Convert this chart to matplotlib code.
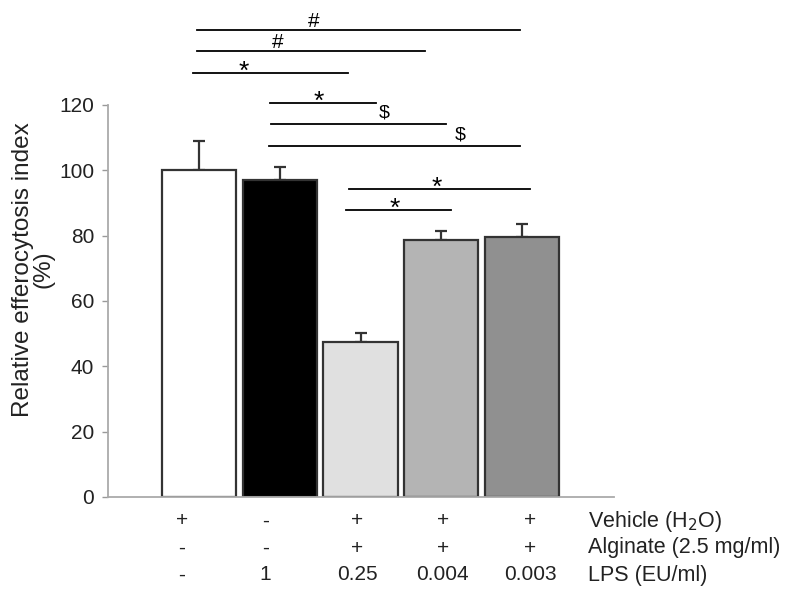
import matplotlib
matplotlib.use("Agg")
import matplotlib.pyplot as plt
import matplotlib.transforms as mtransforms

plt.rcParams['font.family'] = ['Liberation Sans', 'DejaVu Sans']

groups = ["Control", "LPS 1", "Alginate LPS 0.25", "Alginate LPS 0.004", "Alginate LPS 0.003"]
values = [100.0, 97.0, 47.4, 78.6, 79.6]
errors = [9.1, 4.1, 2.9, 2.7, 4.0]
colors = ["#ffffff", "#000000", "#e0e0e0", "#b4b4b4", "#909090"]

vehicle_row = ["+", "-", "+", "+", "+"]
alginate_row = ["-", "-", "+", "+", "+"]
lps_row = ["-", "1", "0.25", "0.004", "0.003"]
row_names = ["Vehicle (H$_2$O)", "Alginate (2.5 mg/ml)", "LPS (EU/ml)"]

# significance brackets: (x_start, x_end, y, label, label_x)
sig_lines = [
    (-0.03, 3.98, 143.0, "#", 1.42),
    (-0.03, 2.80, 136.5, "#", 0.97),
    (-0.07, 1.85, 129.9, "*", 0.56),
    (0.88, 2.19, 120.6, "*", 1.48),
    (0.89, 3.06, 114.1, "$", 2.29),
    (0.87, 3.98, 107.5, "$", 3.23),
    (1.86, 4.10, 94.4, "*", 2.94),
    (1.82, 3.12, 87.8, "*", 2.43),
]

fig = plt.figure(figsize=(8.0, 6.03), dpi=100)
ax = fig.add_axes([108/800, 1-497/603, (614-108)/800, 392/603])

x = list(range(len(values)))
ax.bar(x, values, width=0.92, color=colors, edgecolor="#333333", linewidth=1.6, zorder=2)
ax.errorbar(x, values, yerr=[[0]*len(errors), errors], fmt="none",
            ecolor="#333333", elinewidth=1.6, capsize=4, capthick=1.6, zorder=1)

ax.set_xlim(-1.127, 5.139)
ax.set_ylim(0, 120)
ax.set_yticks([0, 20, 40, 60, 80, 100, 120])
ax.tick_params(axis='y', direction='out', length=4, width=1, color="#999999",
               labelsize=15, pad=6, labelcolor="#222222")
ax.set_xticks([])
for s in ["top", "right"]:
    ax.spines[s].set_visible(False)
ax.spines["left"].set_color("#aaaaaa")
ax.spines["bottom"].set_color("#aaaaaa")
ax.spines["left"].set_linewidth(1.3)
ax.spines["bottom"].set_linewidth(1.3)

ax.set_ylabel("Relative efferocytosis index\n(%)", fontsize=17.5, color="#222222",
              linespacing=0.95)
ax.yaxis.set_label_coords(-0.105, 0.58)

for x0, x1, y, lab, lx in sig_lines:
    ax.plot([x0, x1], [y, y], color="black", lw=1.3, clip_on=False)
    if lab == "*":
        ax.text(lx, y - 1.8, lab, ha="center", va="baseline", fontsize=19, clip_on=False)
    elif lab == "#":
        ax.text(lx, y + 0.9, lab, ha="center", va="baseline", fontsize=15, clip_on=False)
    else:
        ax.text(lx, y + 2.0, lab, ha="center", va="baseline", fontsize=14, clip_on=False)

# condition table below the axis
label_x = [-0.21, 0.82, 1.96, 3.02, 4.10]
trans = mtransforms.blended_transform_factory(ax.transData, fig.transFigure)
row_y = [1-521/603, 1-548/603, 1-575/603]
for rowvals, yy in zip([vehicle_row, alginate_row, lps_row], row_y):
    for lx, v in zip(label_x, rowvals):
        ax.text(lx, yy, v, transform=trans, ha="center", va="center", fontsize=15, color="#222222")
for name, yy in zip(row_names, row_y):
    fig.text(588/800, yy, name, ha="left", va="center", fontsize=15.5, color="#222222")

fig.savefig("out.png", dpi=100)
